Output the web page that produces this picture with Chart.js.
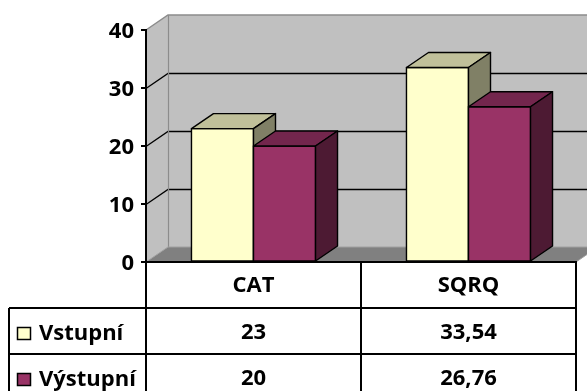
<!DOCTYPE html>
<html>
<head>
<meta charset="utf-8">
<script src="https://cdn.jsdelivr.net/npm/chart.js@4/dist/chart.umd.min.js"></script>
<style>
  html, body { margin: 0; padding: 0; background: #fff; }
  #wrap { width: 587px; height: 391px; }
</style>
</head>
<body>
<div id="wrap"><canvas id="c" width="587" height="391"></canvas></div>
<script>
// Data
const categories = ['CAT', 'SQRQ'];
const seriesNames = ['Vstupní', 'Výstupní'];
const vstupni = [23, 33.54];
const vystupni = [20, 26.76];
const yMin = 0;
const yMax = 40;
const yStep = 10;

// Face colours of the 3D columns (front, top, side)
const faces = [
  { front: '#FFFFCC', top: '#C0C09A', side: '#808066' },
  { front: '#993366', top: '#73264D', side: '#4D1A33' }
];

const DX = 22;     // depth offset, horizontal
const DY = -15;    // depth offset, vertical
const ROW_H = 46;  // data table row height
const TABLE_LEFT = 9;
const FONT = 'bold 22px "Open Sans"';

function poly(ctx, pts, fill, stroke, lw) {
  ctx.beginPath();
  ctx.moveTo(pts[0][0], pts[0][1]);
  for (let i = 1; i < pts.length; i++) ctx.lineTo(pts[i][0], pts[i][1]);
  ctx.closePath();
  if (fill) { ctx.fillStyle = fill; ctx.fill(); }
  if (stroke) { ctx.strokeStyle = stroke; ctx.lineWidth = lw || 1; ctx.stroke(); }
}

function line(ctx, pts, color, lw) {
  ctx.beginPath();
  ctx.moveTo(pts[0][0], pts[0][1]);
  for (let i = 1; i < pts.length; i++) ctx.lineTo(pts[i][0], pts[i][1]);
  ctx.strokeStyle = color;
  ctx.lineWidth = lw;
  ctx.stroke();
}

// Walls, floor and back gridlines
const wallsPlugin = {
  id: 'walls',
  beforeDraw(chart) {
    const { ctx, chartArea: a, scales: { y } } = chart;
    ctx.save();
    const L = a.left, R = a.right, T = a.top, B = a.bottom;
    // back wall
    poly(ctx, [[L + DX, T + DY], [R + DX, T + DY], [R + DX, B + DY], [L + DX, B + DY]], '#C0C0C0');
    // side wall
    poly(ctx, [[L, T], [L + DX, T + DY], [L + DX, B + DY], [L, B]], '#C0C0C0');
    // floor
    poly(ctx, [[L, B], [L + DX, B + DY], [R + DX, B + DY], [R, B]], '#808080');
    // gridlines along side and back walls
    y.ticks.forEach(t => {
      if (t.value <= y.min || t.value >= y.max) return;
      const yf = Math.round(y.getPixelForValue(t.value)) + 0.5;
      line(ctx, [[L, yf], [L + DX, yf + DY], [R + DX, yf + DY]], '#000', 1.3);
    });
    // wall edges
    line(ctx, [[L, T], [L + DX, T + DY], [R + DX, T + DY]], '#8C8C8C', 1.5);
    line(ctx, [[L + DX + 0.5, T + DY], [L + DX + 0.5, B + DY]], '#8C8C8C', 1.2);
    line(ctx, [[L, B], [L + DX, B + DY], [R + DX, B + DY]], '#A0A0A0', 1);
    line(ctx, [[R, B], [R + DX, B + DY]], '#A0A0A0', 1);
    ctx.restore();
  }
};

// 3D columns built from the bar elements laid out by the scales
const columnsPlugin = {
  id: 'columns3d',
  beforeDatasetsDraw(chart) {
    const { ctx } = chart;
    ctx.save();
    ctx.lineJoin = 'round';
    const metas = chart.data.datasets.map((d, i) => chart.getDatasetMeta(i));
    const n = chart.data.labels.length;
    for (let c = 0; c < n; c++) {
      metas.forEach((meta, di) => {
        const el = meta.data[c];
        const { x, y, base, width } = el.getProps(['x', 'y', 'base', 'width'], true);
        const l = x - width / 2, r = x + width / 2;
        const col = faces[di];
        // front
        poly(ctx, [[l, y], [r, y], [r, base], [l, base]], col.front, '#000', 1.4);
        // top
        poly(ctx, [[l, y], [l + DX, y + DY], [r + DX, y + DY], [r, y]], col.top, '#000', 1.4);
        // side
        poly(ctx, [[r, y], [r + DX, y + DY], [r + DX, base + DY], [r, base]], col.side, '#000', 1.4);
      });
    }
    ctx.restore();
    return false;
  }
};

// Data table under the plot
const tablePlugin = {
  id: 'dataTable',
  afterDraw(chart) {
    const { ctx, chartArea: a, scales: { x } } = chart;
    const labels = chart.data.labels;
    const catW = (a.right - a.left) / labels.length;
    const top = a.bottom;
    const rows = chart.data.datasets.length;
    const bottom = top + ROW_H * (rows + 1);
    ctx.save();
    ctx.fillStyle = '#fff';
    ctx.fillRect(a.left, top, a.right - a.left, bottom - top);
    ctx.fillRect(TABLE_LEFT, top + ROW_H, a.left - TABLE_LEFT, bottom - top - ROW_H);

    // horizontal rules
    line(ctx, [[a.left, top], [a.right + 1, top]], '#000', 2);
    for (let r = 1; r <= rows + 1; r++) {
      const yy = top + ROW_H * r;
      line(ctx, [[TABLE_LEFT, yy], [a.right + 1, yy]], '#000', 2);
    }
    // vertical rules
    for (let c = 0; c <= labels.length; c++) {
      const xx = Math.round(a.left + catW * c);
      line(ctx, [[xx, top], [xx, bottom]], '#000', 2);
    }
    line(ctx, [[TABLE_LEFT, top + ROW_H], [TABLE_LEFT, bottom]], '#000', 2);

    ctx.font = FONT;
    ctx.fillStyle = '#000';
    ctx.textBaseline = 'middle';
    ctx.textAlign = 'center';
    labels.forEach((lab, i) => {
      ctx.fillText(lab, x.getPixelForValue(i), top + ROW_H / 2 + 1);
    });
    chart.data.datasets.forEach((ds, di) => {
      const cy = top + ROW_H * (di + 1) + ROW_H / 2 + 2;
      ctx.textAlign = 'center';
      ds.data.forEach((v, i) => {
        ctx.fillText(String(v).replace('.', ','), x.getPixelForValue(i), cy);
      });
      // legend key
      ctx.fillStyle = faces[di].front;
      ctx.fillRect(17.5, cy - 5.5, 13, 12);
      ctx.strokeStyle = '#000';
      ctx.lineWidth = 1.5;
      ctx.strokeRect(17.5, cy - 5.5, 13, 12);
      ctx.fillStyle = '#000';
      ctx.textAlign = 'left';
      ctx.fillText(ds.label, 39, cy + 1);
    });
    ctx.restore();
  }
};

new Chart(document.getElementById('c'), {
  type: 'bar',
  data: {
    labels: categories,
    datasets: [
      { label: seriesNames[0], data: vstupni, backgroundColor: faces[0].front },
      { label: seriesNames[1], data: vystupni, backgroundColor: faces[1].front }
    ]
  },
  options: {
    responsive: false,
    animation: false,
    layout: { padding: { left: 0, top: 30, right: 11, bottom: 129 } },
    datasets: { bar: { categoryPercentage: 0.577, barPercentage: 1 } },
    plugins: { legend: { display: false }, tooltip: { enabled: false } },
    scales: {
      x: { display: false },
      y: {
        min: yMin, max: yMax,
        afterFit(s) { s.width = 146; },
        ticks: { stepSize: yStep, color: '#000', font: { family: 'Open Sans', size: 22, weight: 'bold' }, padding: 7, labelOffset: 2 },
        grid: { drawOnChartArea: false, drawTicks: true, tickLength: 5, color: '#000', lineWidth: 2 },
        border: { display: true, color: '#000', width: 2 }
      }
    }
  },
  plugins: [wallsPlugin, columnsPlugin, tablePlugin]
});
</script>
</body>
</html>
